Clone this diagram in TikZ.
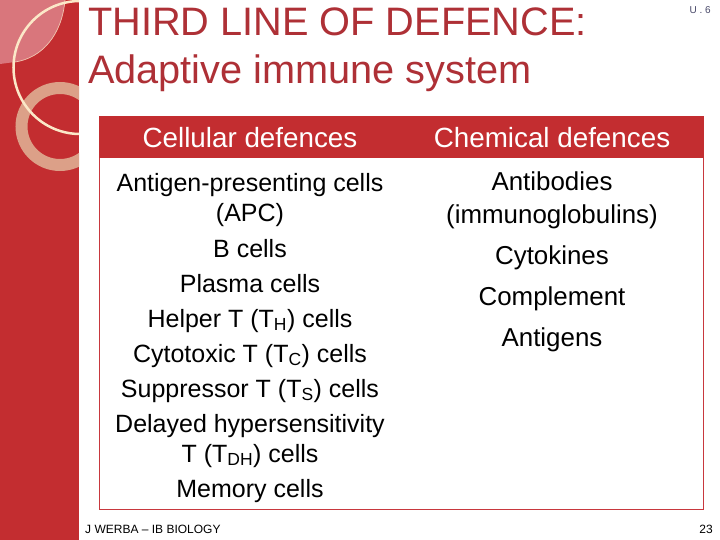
\documentclass[tikz,border=0pt]{standalone}
\usepackage{fontspec}
\setmainfont{Liberation Sans}
\usepackage{xcolor}
\usepackage{tikz}
\usetikzlibrary{arrows}
\usetikzlibrary{fit}
\definecolor{bandred}{HTML}{C32D30}
\definecolor{titlered}{HTML}{AE3036}
\definecolor{ringpink}{HTML}{DCA088}
\definecolor{creamline}{HTML}{FBE8C8}
\definecolor{leafpink}{HTML}{D9767C}
\definecolor{boxred}{HTML}{C8383E}
\definecolor{smallblue}{HTML}{4A4A6A}
\tikzset{
	 titleline/.style={anchor=base west,inner sep=0pt,text=titlered,font=\fontsize{39.7}{40}\selectfont},
	 cellline/.style={font=\fontsize{25}{25}\selectfont,inner sep=0pt,text height=20pt,text depth=2pt},
	 chemline/.style={cellline,font=\fontsize{25.9}{26}\selectfont},
	 headline/.style={font=\fontsize{27.8}{28}\selectfont,inner sep=0pt,text=white,text height=22pt,text depth=2pt},
	 smallline/.style={inner sep=0pt,font=\fontsize{12}{12}\selectfont}
}
\begin{document}
\begin{tikzpicture}[x=1pt,y=-1pt,node distance=35pt]
	 \useasboundingbox (0,0) rectangle (720,540);
	 \fill[white] (0,0) rectangle (720,540);
	 \fill[bandred] (0,0) rectangle (79,540);
	 \begin{scope}
	 \clip (0,0) rectangle (79,540);
	 \fill[leafpink] (0,0) -- (65,0) .. controls (62,35) and (42,58) .. (15,62) -- (0,64) -- cycle;
	 \draw[creamline!70!leafpink,line width=.7pt] (65,0) .. controls (62,35) and (42,58) .. (15,62);
	 \draw[ringpink,line width=12pt] (60,126.5) circle[radius=38.5pt];
	 \draw[creamline,line width=2.5pt] (80,67.5) circle[radius=66.5pt];
	 \end{scope}
	 \node[titleline] (title1) at (88,36) {THIRD LINE OF DEFENCE:};
	 \node[titleline] (title2) at (88,84) {Adaptive immune system};
	 \node[smallline,text=smallblue,anchor=base east,font=\fontsize{10}{10}\selectfont] (unit) at (711,14) {U . 6};
	 \draw[boxred,line width=1pt] (99.5,158) rectangle (703.5,509);
	 \fill[bandred] (99,116) rectangle (704,158);
	 \node[headline] (cellular) at (250,138) {Cellular defences};
	 \node[headline] (chemical) at (552,138) {Chemical defences};
	 \node[cellline] (apc1) at (250,183) {Antigen-presenting cells};
	 \node[cellline] (apc2) at (250,213) {(APC)};
	 \node[cellline] (bcells) [below of=apc2] {B cells};
	 \node[cellline] (plasma) [below of=bcells] {Plasma cells};
	 \node[cellline] (helper) [below of=plasma] {Helper T (T\textsubscript{H}) cells};
	 \node[cellline] (cyto) [below of=helper] {Cytotoxic T (T\textsubscript{C}) cells};
	 \node[cellline] (supp) [below of=cyto] {Suppressor T (T\textsubscript{S}) cells};
	 \node[cellline] (delayed1) [below of=supp] {Delayed hypersensitivity};
	 \node[cellline] (delayed2) at (250,453) {T (T\textsubscript{DH}) cells};
	 \node[cellline] (memory) [below of=delayed2] {Memory cells};
	 \node[chemline] (anti1) at (552,182) {Antibodies};
	 \node[chemline] (anti2) at (552,214) {(immunoglobulins)};
	 \node[chemline] (cytokines) at (552,255) {Cytokines};
	 \node[chemline] (complement) at (552,296) {Complement};
	 \node[chemline] (antigens) at (552,337) {Antigens};
	 \node[smallline,anchor=base west] (footer) at (85,533) {J WERBA – IB BIOLOGY};
	 \node[smallline,anchor=base east] (page) at (713,533) {23};
\end{tikzpicture}
\end{document}
